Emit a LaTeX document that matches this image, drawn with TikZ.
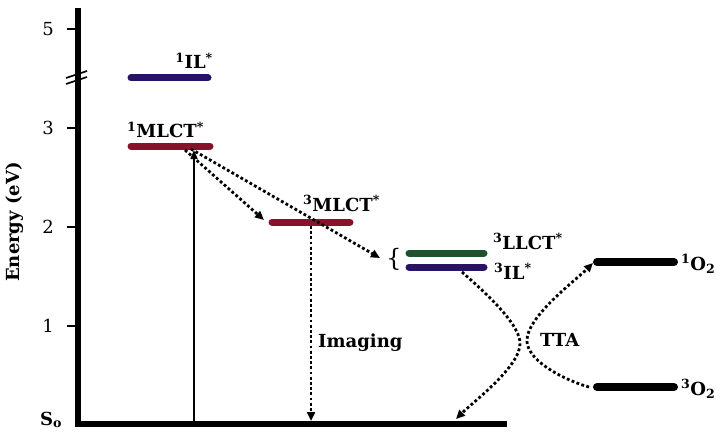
\documentclass[tikz,border=0pt]{standalone}
\usepackage{fontspec}
\setmainfont{DejaVu Serif}
\usetikzlibrary{arrows.meta}

\definecolor{ilblue}{RGB}{40,18,100}
\definecolor{mlctred}{RGB}{135,18,42}
\definecolor{llctgreen}{RGB}{28,82,44}

\tikzset{
  level/.style={line width=7pt, line cap=round},
  lab/.style={font=\bfseries\fontsize{18}{20}\selectfont, inner sep=0pt},
  tick/.style={font=\fontsize{18}{20}\selectfont, inner sep=0pt},
  dotarrow/.style={line width=2.8pt, dash pattern=on 2.8pt off 2.4pt,
    -{Triangle[length=9pt,width=8pt]}},
}

\begin{document}
\begin{tikzpicture}[x=1pt,y=-1pt]
\useasboundingbox (0,0) rectangle (725,441);

% axes and break mark
\draw[line width=6.5pt] (78,8) |- (507,424);
\foreach \yy/\lbl in {29/5,128/3,227/2,326/1}{
  \draw[line width=1.3pt] (67,\yy) -- (78,\yy);
  \node[tick] (tick\lbl) at (48,\yy) {\lbl};
}
\draw[line width=1.6pt] (66,78) -- (87,71);
\draw[line width=1.6pt] (66,84) -- (87,77);
\node[lab, rotate=90] (ylab) at (15,222) {Energy (eV)};
\node[lab, anchor=base west] (szero) at (40,425) {S\textsubscript{o}};

% energy levels
\coordinate (ilA) at (131,78);   \coordinate (ilB) at (208,78);
\coordinate (smA) at (131,146);  \coordinate (smB) at (210,146);
\coordinate (tmA) at (272,222);  \coordinate (tmB) at (350,222);
\coordinate (tlA) at (409,253);  \coordinate (tlB) at (484,253);
\coordinate (tiA) at (409,267);  \coordinate (tiB) at (484,267);
\coordinate (soA) at (597,262);  \coordinate (soB) at (674,262);
\coordinate (toA) at (597,387);  \coordinate (toB) at (674,387);

\draw[level, ilblue] (ilA) -- (ilB);
\draw[level, mlctred] (smA) -- (smB);
\draw[level, mlctred] (tmA) -- (tmB);
\draw[level, llctgreen] (tlA) -- (tlB);
\draw[level, ilblue] (tiA) -- (tiB);
\draw[level, line width=8pt] (soA) -- (soB);
\draw[level, line width=8pt] (toA) -- (toB);

\node[lab, anchor=base east] (ilS) at (213,69) {\textsuperscript{1}IL\textsuperscript{*}};
\node[lab, anchor=base west] (mlS) at (127,138) {\textsuperscript{1}MLCT\textsuperscript{*}};
\node[lab, anchor=base west] (mlT) at (303,211) {\textsuperscript{3}MLCT\textsuperscript{*}};
\node[lab, anchor=base west] (llT) at (493,249) {\textsuperscript{3}LLCT\textsuperscript{*}};
\node[lab, anchor=base west] (ilT) at (494,279) {\textsuperscript{3}IL\textsuperscript{*}};
\node[lab, anchor=base west] (oxS) at (681,270) {\textsuperscript{1}O\textsubscript{2}};
\node[lab, anchor=base west] (oxT) at (681,395) {\textsuperscript{3}O\textsubscript{2}};
\node[font=\fontsize{24}{24}\selectfont, inner sep=0pt] (brace) at (394,259) {\{};

% transitions
\coordinate (excBot) at (194,421);
\coordinate (excTop) at (194,150);
\draw[line width=1.6pt, -{Triangle[length=9pt,width=7pt]}] (excBot) -- (excTop);

\coordinate (iscA) at (185,150);
\coordinate (iscB) at (264,220);
\draw[dotarrow] (iscA) -- (iscB);
\coordinate (icA) at (191,149);
\coordinate (icB) at (380,258);
\draw[dotarrow] (icA) -- (icB);

\coordinate (imgA) at (311,226);
\coordinate (imgB) at (311,421);
\draw[dotarrow] (imgA) -- (imgB);
\node[lab, anchor=base west] (imaging) at (318,347) {Imaging};

% TTA
\coordinate (ttaA) at (462,272);
\coordinate (ttaX) at (520,342);
\coordinate (ttaB) at (456,419);
\draw[dotarrow] (ttaA) to[out=-42,in=95,looseness=0.6] (ttaX)
  to[out=-85,in=45,looseness=0.6] (ttaB);
\coordinate (ttbA) at (589,387);
\coordinate (ttbX) at (527,342);
\coordinate (ttbB) at (593,263);
\draw[dotarrow] (ttbA) to[out=165,in=-85,looseness=0.7] (ttbX)
  to[out=95,in=-135,looseness=0.6] (ttbB);
\node[lab, anchor=base west] (tta) at (540,346) {TTA};
\end{tikzpicture}
\end{document}
